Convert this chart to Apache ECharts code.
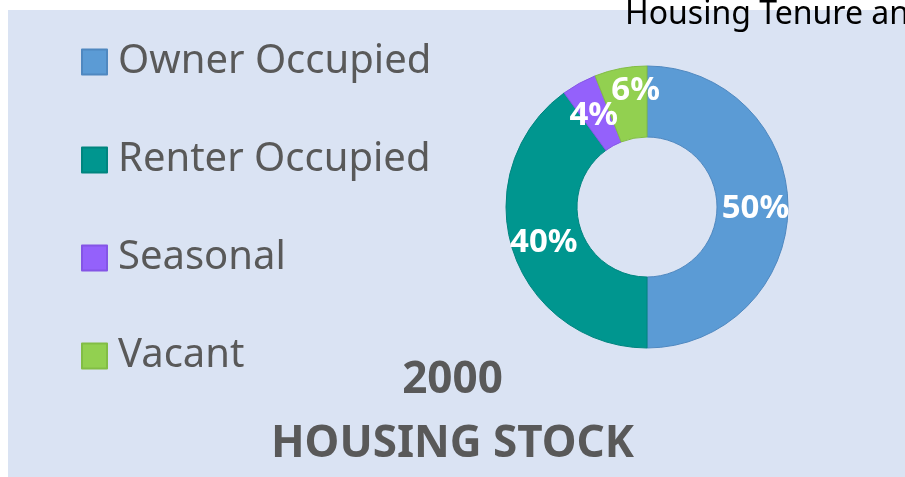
<!DOCTYPE html>
<html>
<head>
<meta charset="utf-8">
<script src="https://cdn.jsdelivr.net/npm/echarts@6/dist/echarts.min.js"></script>
<style>
  html, body { margin: 0; padding: 0; background: #fff; }
  #chart { width: 905px; height: 477px; }
</style>
</head>
<body>
<div id="chart"></div>
<script>
// housing stock shares, 2000
var categories = ["Owner Occupied", "Renter Occupied", "Seasonal", "Vacant"];
var shares = [50, 40, 4, 6];
var colors = ["#5b9bd5", "#00968f", "#9461fb", "#92d050"];
var borders = ["#4f88c0", "#00857f", "#8455e6", "#82bd45"];

var chart = echarts.init(document.getElementById("chart"));

var pieData = categories.map(function (name, i) {
  return {
    name: name,
    value: shares[i],
    itemStyle: { color: colors[i], borderColor: borders[i], borderWidth: 1 }
  };
});

var options = {
  backgroundColor: "transparent",
  textStyle: { fontFamily: "Noto Sans" },
  graphic: [
    {
      type: "rect",
      z: -10,
      shape: { x: 8, y: 10, width: 897, height: 467 },
      style: { fill: "#dae3f3" },
      silent: true
    }
  ],
  title: [
    {
      text: "Housing Tenure and Occupancy",
      left: 625,
      top: -1,
      padding: 0,
      textStyle: { fontFamily: "Noto Sans", fontSize: 32, fontWeight: "normal", color: "#000" }
    },
    {
      text: "2000\nHOUSING STOCK",
      left: "center",
      top: 348,
      padding: 0,
      textStyle: {
        fontFamily: "Noto Sans",
        fontSize: 44,
        fontWeight: "bold",
        color: "#595959",
        lineHeight: 64,
        align: "center"
      }
    }
  ],
  legend: {
    orient: "vertical",
    left: 81,
    top: 37,
    padding: 0,
    itemWidth: 25,
    itemHeight: 25,
    itemGap: 48,
    icon: "rect",
    data: categories,
    textStyle: {
      fontFamily: "Noto Sans",
      fontSize: 40,
      color: "#595959",
      lineHeight: 50,
      padding: [0, 0, 0, 6]
    }
  },
  series: [
    {
      type: "pie",
      center: [647, 207],
      radius: [70, 141],
      startAngle: 90,
      clockwise: true,
      avoidLabelOverlap: false,
      label: {
        show: true,
        position: "inside",
        formatter: function (p) { return Math.round(p.percent) + "%"; },
        fontFamily: "Noto Sans",
        fontSize: 33,
        fontWeight: "bold",
        color: "#fff"
      },
      // excel nudges the small top labels a bit
      labelLayout: function (p) {
        if (p.dataIndex === 3) return { dx: 9, dy: -10, hideOverlap: false };
        if (p.dataIndex === 2) return { dx: -1, dy: 4, hideOverlap: false };
        return { dy: 2, hideOverlap: false };
      },
      labelLine: { show: false },
      emphasis: { disabled: true },
      data: pieData
    }
  ]
};

chart.setOption(options, true);
</script>
</body>
</html>
